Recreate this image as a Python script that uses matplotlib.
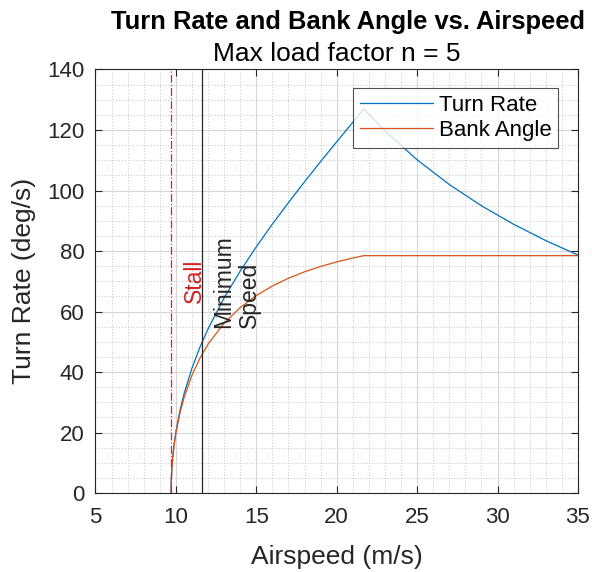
import numpy as np
import matplotlib.pyplot as plt
from matplotlib.ticker import MultipleLocator

# airspeed samples (m/s) and values
airspeed = [9.70, 9.71, 9.75, 9.80, 9.90, 10.0, 10.25, 10.5, 11.0, 11.5, 12.0,
            13.0, 14.0, 15.0, 16.0, 17.0, 18.0, 19.0, 20.0, 21.0, 21.69,
            23.0, 25.0, 27.0, 29.0, 31.0, 33.0, 35.0]
turn_rate = [0.0, 3.72, 8.31, 11.74, 16.56, 20.23, 27.24, 32.69, 41.32, 48.28, 54.27,
             64.51, 73.37, 81.40, 88.89, 96.02, 102.89, 109.58, 116.12, 122.56, 126.95,
             119.72, 110.14, 101.98, 94.95, 88.83, 83.44, 78.67]
bank_angle = [0.0, 3.67, 8.20, 11.57, 16.26, 19.78, 26.42, 31.41, 38.96, 44.63, 49.20,
              56.17, 61.31, 65.28, 68.43, 71.00, 73.12, 74.89, 76.39, 77.68, 78.46,
              78.46, 78.46, 78.46, 78.46, 78.46, 78.46, 78.46]

v_stall = 9.70
v_min = 11.64
n_max = 5

plt.rcParams['font.family'] = ['Liberation Sans', 'DejaVu Sans']

fig = plt.figure(figsize=(5.92, 5.72), dpi=100)
ax = fig.add_axes([0.1613, 0.1381, 0.815, 0.7404])

ax.plot(airspeed, turn_rate, color='#0072BD', lw=0.9, label='Turn Rate')
ax.plot(airspeed, bank_angle, color='#D95319', lw=0.9, label='Bank Angle')

ax.axvline(v_stall, color='#E8201A', lw=0.9, ls='-.')
ax.axvline(v_min, color='#262626', lw=0.9, ls='-')
ax.text(v_stall + 0.75, 70, 'Stall', color='#D42020', rotation=90,
        ha='left', va='center', fontsize=16.5)
ax.text(v_min + 0.6, 70, 'Minimum\nSpeed', color='#262626', rotation=90,
        ha='left', va='center', fontsize=16.5, linespacing=1.15)

ax.set_xlim(5, 35)
ax.set_ylim(0, 140)
ax.xaxis.set_major_locator(MultipleLocator(5))
ax.xaxis.set_minor_locator(MultipleLocator(1))
ax.yaxis.set_major_locator(MultipleLocator(20))
ax.yaxis.set_minor_locator(MultipleLocator(5))

ax.grid(which='major', color='#d6d6d6', lw=0.8, ls='-')
ax.grid(which='minor', color='#c8c8c8', lw=0.6, ls=(0, (1.5, 2)))
ax.set_axisbelow(True)

ax.tick_params(which='both', direction='in', top=True, right=True,
               colors='#262626', labelsize=16)
ax.tick_params(axis='x', which='major', pad=10)
ax.tick_params(axis='y', which='major', pad=8)
ax.tick_params(which='major', length=5, width=0.8)
ax.tick_params(which='minor', length=0)
for s in ax.spines.values():
    s.set_color('#262626')
    s.set_linewidth(0.8)

ax.set_xlabel('Airspeed (m/s)', fontsize=19, color='#262626', labelpad=12)
ax.set_ylabel('Turn Rate (deg/s)', fontsize=19, color='#262626', labelpad=8)

fig.text(0.588, 0.9615, 'Turn Rate and Bank Angle vs. Airspeed', ha='center',
         va='center', fontsize=18.4, fontweight='bold')
fig.text(0.568, 0.906, 'Max load factor n = %d' % n_max, ha='center',
         va='center', fontsize=19)

leg = ax.legend(loc='upper right', bbox_to_anchor=(0.9585, 0.9563), fontsize=16,
                handlelength=3.3, frameon=True, fancybox=False, borderpad=0.3,
                labelspacing=0.2, handletextpad=0.25, borderaxespad=0)
leg.get_frame().set_edgecolor('#262626')
leg.get_frame().set_linewidth(0.8)

fig.savefig('out.png', dpi=100)
